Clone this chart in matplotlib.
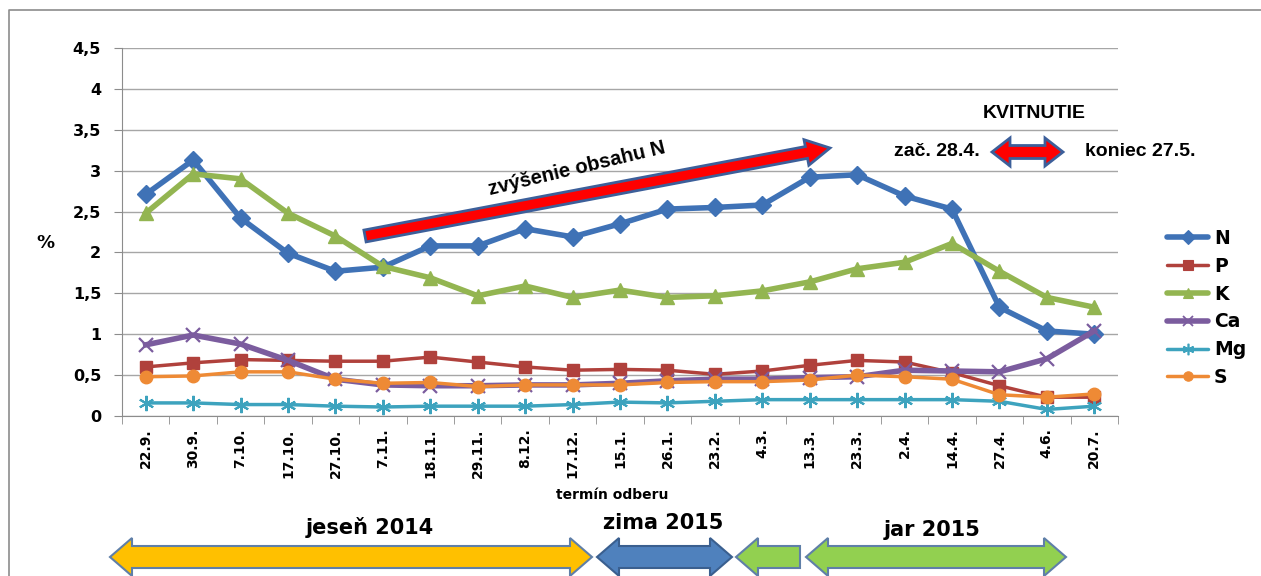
import matplotlib
matplotlib.use('Agg')
import matplotlib.pyplot as plt
from matplotlib.patches import Polygon
from matplotlib.lines import Line2D
import numpy as np

dates = ['22.9.', '30.9.', '7.10.', '17.10.', '27.10.', '7.11.', '18.11.', '29.11.',
         '8.12.', '17.12.', '15.1.', '26.1.', '23.2.', '4.3.', '13.3.', '23.3.',
         '2.4.', '14.4.', '27.4.', '4.6.', '20.7.']
N = [2.71, 3.13, 2.42, 1.99, 1.77, 1.82, 2.08, 2.08, 2.29, 2.19, 2.35, 2.53, 2.55,
     2.58, 2.92, 2.95, 2.69, 2.53, 1.33, 1.04, 1.00]
P = [0.60, 0.65, 0.69, 0.68, 0.67, 0.67, 0.72, 0.66, 0.60, 0.56, 0.57, 0.56, 0.51,
     0.55, 0.62, 0.68, 0.66, 0.53, 0.37, 0.23, 0.23]
K = [2.48, 2.96, 2.90, 2.48, 2.20, 1.83, 1.69, 1.47, 1.59, 1.45, 1.54, 1.45, 1.47,
     1.53, 1.64, 1.80, 1.88, 2.11, 1.77, 1.45, 1.33]
Ca = [0.87, 0.99, 0.88, 0.68, 0.45, 0.38, 0.37, 0.37, 0.38, 0.38, 0.40, 0.43, 0.45,
      0.45, 0.47, 0.48, 0.56, 0.55, 0.54, 0.70, 1.04]
Mg = [0.16, 0.16, 0.14, 0.14, 0.12, 0.11, 0.12, 0.12, 0.12, 0.14, 0.17, 0.16, 0.18,
      0.20, 0.20, 0.20, 0.20, 0.20, 0.18, 0.08, 0.12]
S = [0.48, 0.49, 0.54, 0.54, 0.45, 0.40, 0.41, 0.36, 0.38, 0.38, 0.38, 0.41, 0.42,
     0.42, 0.44, 0.50, 0.48, 0.45, 0.26, 0.23, 0.27]
yticks = [0, 0.5, 1, 1.5, 2, 2.5, 3, 3.5, 4, 4.5]
ytick_labels = ['0', '0,5', '1', '1,5', '2', '2,5', '3', '3,5', '4', '4,5']

W, H = 1261, 576
fig = plt.figure(figsize=(W / 100, H / 100), dpi=100)
fig.patch.set_facecolor('white')


def fx(x):
    return x / W


def fy(y):
    return 1 - y / H


ax = fig.add_axes([fx(122), fy(416), fx(1118) - fx(122), fy(48) - fy(416)])
x = np.arange(len(dates))

series = [
    ('N', N, '#3F72B6', 'D', 4.0, 9, 1.0),
    ('P', P, '#B0413C', 's', 2.5, 9, 1.0),
    ('K', K, '#93B551', '^', 4.0, 10, 1.0),
    ('Ca', Ca, '#7B5C9E', 'x', 4.0, 10, 1.6),
    ('Mg', Mg, '#3DA3BE', (6, 2, 0), 2.5, 11, 1.5),
    ('S', S, '#EE8A35', 'o', 2.5, 9, 1.0),
]
handles = []
for name, vals, col, mk, lw, ms, mew in series:
    ax.plot(x, vals, color=col, lw=lw, marker=mk, ms=ms, mec=col, mfc=col,
            mew=mew, solid_joinstyle='round', zorder=3)
    handles.append(Line2D([], [], color=col, lw=lw, marker=mk, ms=ms * 0.75,
                          mec=col, mfc=col, mew=mew * 0.8, label=name,
                          solid_capstyle='round'))

ax.set_xlim(-0.5, len(dates) - 0.5)
ax.set_ylim(0, 4.5)
ax.set_yticks(yticks)
ax.set_yticklabels(ytick_labels, fontsize=11.5, fontweight='bold', family='DejaVu Sans')
ax.set_xticks(x)
ax.set_xticklabels(dates, rotation=90, fontsize=10, fontweight='bold', family='DejaVu Sans')
ax.set_xticks(np.arange(-0.5, len(dates)), minor=True)
ax.tick_params(axis='x', which='major', length=0, pad=9)
ax.tick_params(axis='x', which='minor', length=6, color='#8C8C8C')
ax.tick_params(axis='y', length=6, color='#8C8C8C', pad=9)
ax.grid(axis='y', color='#A6A6A6', lw=1.0)
ax.set_axisbelow(True)
for s in ['top', 'right']:
    ax.spines[s].set_visible(False)
for s in ['left', 'bottom']:
    ax.spines[s].set_color('#8C8C8C')

fig.text(fx(45), fy(243), '%', fontsize=13, fontweight='bold', ha='center', va='center')
fig.text(fx(612), fy(495), 'termín odberu', fontsize=10, fontweight='bold',
         ha='center', va='center')

leg = ax.legend(handles=handles, loc='upper left', bbox_to_anchor=(fx(1150), fy(212)),
                bbox_transform=fig.transFigure, frameon=False, handlelength=2.2,
                handletextpad=0.3, labelspacing=0.47,
                prop={'weight': 'bold', 'size': 13.5, 'family': 'DejaVu Sans'})

# border
fig.add_artist(Line2D([fx(9), fx(9), fx(1261)], [fy(576), fy(10), fy(10)],
                      color='#8C8C8C', lw=1.2))


def arrow_poly(p0, p1, w, hw, hl, head0=True, head1=True):
    p0 = np.array(p0, float)
    p1 = np.array(p1, float)
    d = p1 - p0
    L = np.hypot(*d)
    u = d / L
    n = np.array([-u[1], u[0]])
    pts = []
    a0 = p0 + u * hl if head0 else p0
    a1 = p1 - u * hl if head1 else p1
    if head0:
        pts += [p0, a0 + n * hw, a0 + n * w]
    else:
        pts += [p0 + n * w]
    if head1:
        pts += [a1 + n * w, a1 + n * hw, p1, a1 - n * hw, a1 - n * w]
    else:
        pts += [p1 + n * w, p1 - n * w]
    if head0:
        pts += [a0 - n * w, a0 - n * hw]
    else:
        pts += [p0 - n * w]
    return [(fx(p[0]), fy(p[1])) for p in pts]


def add_arrow(p0, p1, w, hw, hl, fc, ec, head0=True, head1=True, lw=1.5):
    poly = Polygon(arrow_poly(p0, p1, w, hw, hl, head0, head1), closed=True,
                   facecolor=fc, edgecolor=ec, lw=lw, transform=fig.transFigure,
                   zorder=5, joinstyle='miter')
    fig.add_artist(poly)


# N increase arrow
add_arrow((365, 236), (830, 148), 6, 13, 24, '#FF0000', '#3C5F9A', head0=False, lw=2)
fig.text(fx(577), fy(169), 'zvýšenie obsahu N', fontsize=14.5, fontweight='bold',
         family='Liberation Sans', rotation=13.5, ha='center', va='center',
         rotation_mode='anchor')

# flowering
fig.text(fx(1034), fy(113), 'KVITNUTIE', fontsize=14, fontweight='bold',
         family='Liberation Sans', ha='center', va='center')
fig.text(fx(937), fy(152), 'zač. 28.4.', fontsize=14, fontweight='bold',
         family='Liberation Sans', ha='center', va='center')
fig.text(fx(1140), fy(152), 'koniec 27.5.', fontsize=14, fontweight='bold',
         family='Liberation Sans', ha='center', va='center')
add_arrow((992, 152), (1063, 152), 6.5, 14, 18, '#FF0000', '#3C5F9A', lw=2)

# season arrows
yc = 557
add_arrow((110, yc), (592, yc), 11, 19, 22, '#FFC000', '#5F7FA8', lw=1.5)
add_arrow((597, yc), (732, yc), 11, 19, 22, '#4F81BD', '#3A5F8F', lw=1.5)
add_arrow((736, yc), (800, yc), 11, 19, 22, '#92D050', '#5F7FA8', head1=False, lw=1.5)
add_arrow((806, yc), (1066, yc), 11, 19, 22, '#92D050', '#5F7FA8', lw=1.5)

for tx, ty, t in [(370, 527, 'jeseň 2014'), (663, 523, 'zima 2015'), (932, 530, 'jar 2015')]:
    fig.text(fx(tx), fy(ty), t, fontsize=15, fontweight='bold',
             ha='center', va='center')

fig.savefig('out.png', dpi=100, facecolor='white')
